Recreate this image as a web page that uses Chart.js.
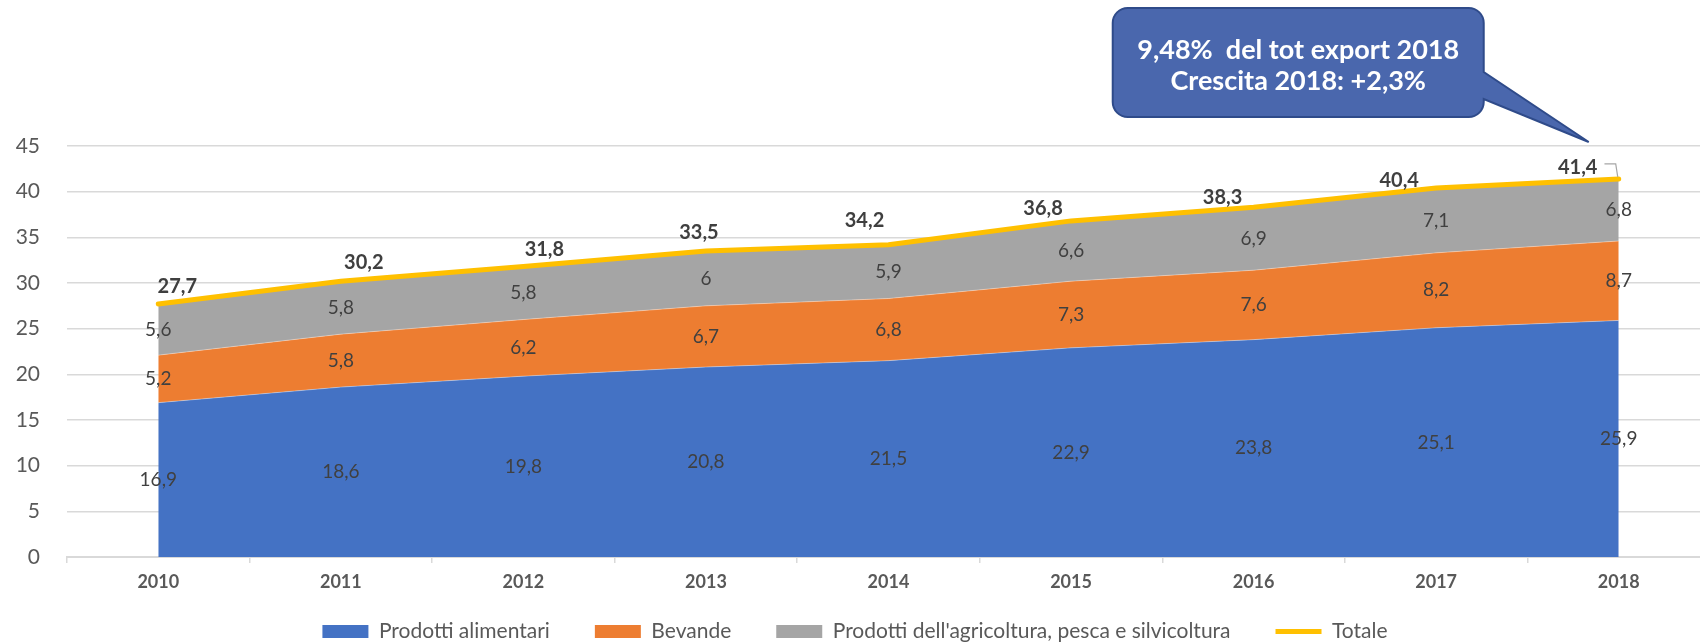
<!DOCTYPE html>
<html>
<head>
<meta charset="utf-8">
<script src="https://cdn.jsdelivr.net/npm/chart.js@4.4.1/dist/chart.umd.min.js"></script>
<style>
  html, body { margin: 0; padding: 0; background: #fff; overflow: hidden; }
  #wrap { position: absolute; left: 0; top: 0; width: 1710px; height: 652px; }
</style>
</head>
<body>
<div id="wrap"><canvas id="exportChart"></canvas></div>
<script>
// Export agroalimentare (miliardi di euro)
const years = ["2010", "2011", "2012", "2013", "2014", "2015", "2016", "2017", "2018"];
const alimentari = [16.9, 18.6, 19.8, 20.8, 21.5, 22.9, 23.8, 25.1, 25.9];
const bevande = [5.2, 5.8, 6.2, 6.7, 6.8, 7.3, 7.6, 8.2, 8.7];
const agricoltura = [5.6, 5.8, 5.8, 6, 5.9, 6.6, 6.9, 7.1, 6.8];
const totale = [27.7, 30.2, 31.8, 33.5, 34.2, 36.8, 38.3, 40.4, 41.4];
const yTicks = [0, 5, 10, 15, 20, 25, 30, 35, 40, 45];

const calloutLines = ["9,48%  del tot export 2018", "Crescita 2018: +2,3%"];

// where the bold "Totale" labels were dragged to in the original (px from point)
const totLabelShift = [[19, -17], [23, -19], [21, -17], [-7, -18], [-24, -24], [-28, -12], [-31, -10], [-37, -7], [-41, -11]];

const fmt = v => String(v).replace(".", ",");
const FONT = "Lato, 'Open Sans', sans-serif";

function areaSet(label, data, color, fill) {
  return {
    label: label,
    data: data,
    stack: "aree",
    fill: fill,
    backgroundColor: color,
    borderColor: "rgba(255,255,255,0.35)",
    borderWidth: 1,
    pointRadius: 0,
    pointHoverRadius: 0,
    pointStyle: "rect",
    pointBackgroundColor: color,
    pointBorderWidth: 0,
    tension: 0
  };
}

// value labels in the middle of each band + bold totals
const labelPlugin = {
  id: "valueLabels",
  afterDatasetsDraw(chart) {
    const ctx = chart.ctx;
    const yScale = chart.scales.y;
    ctx.save();
    ctx.textAlign = "center";
    ctx.textBaseline = "middle";
    ctx.fillStyle = "#404040";
    ctx.font = "19px " + FONT;
    [0, 1, 2].forEach(di => {
      const meta = chart.getDatasetMeta(di);
      const below = di > 0 ? chart.getDatasetMeta(di - 1) : null;
      meta.data.forEach((pt, j) => {
        const base = below ? below.data[j].y : yScale.getPixelForValue(0);
        ctx.fillText(fmt(chart.data.datasets[di].data[j]), pt.x, (pt.y + base) / 2);
      });
    });

    const tot = chart.getDatasetMeta(3);
    ctx.font = "bold 20px " + FONT;
    ctx.fillStyle = "#3f3f3f";
    tot.data.forEach((pt, j) => {
      const s = totLabelShift[j];
      ctx.fillText(fmt(totale[j]), pt.x + s[0], pt.y + s[1]);
    });
    // leader line for the last label
    const last = tot.data[tot.data.length - 1];
    const s = totLabelShift[tot.data.length - 1];
    const w = ctx.measureText(fmt(totale[totale.length - 1])).width;
    const lx = last.x + s[0] + w / 2 + 7;
    const ly = last.y + s[1] - 4;
    ctx.strokeStyle = "#a6a6a6";
    ctx.lineWidth = 1.2;
    ctx.beginPath();
    ctx.moveTo(lx, ly);
    ctx.lineTo(last.x - 3, ly);
    ctx.lineTo(last.x - 1, last.y - 2);
    ctx.stroke();
    ctx.restore();
  }
};

// speech-bubble callout pointing at the 2018 total
const calloutPlugin = {
  id: "callout",
  afterDraw(chart) {
    const ctx = chart.ctx;
    const tipX = chart.scales.x.getPixelForValue(years.length - 1) - 30;
    const tipY = chart.scales.y.getPixelForValue(45) - 4;
    const right = tipX - 105, left = tipX - 476, top = 8, bottom = 117, r = 15;
    ctx.save();
    ctx.beginPath();
    ctx.moveTo(left + r, top);
    ctx.lineTo(right - r, top);
    ctx.arcTo(right, top, right, top + r, r);
    ctx.lineTo(right, 72);
    ctx.lineTo(tipX, tipY);
    ctx.lineTo(right, 99);
    ctx.lineTo(right, bottom - r);
    ctx.arcTo(right, bottom, right - r, bottom, r);
    ctx.lineTo(left + r, bottom);
    ctx.arcTo(left, bottom, left, bottom - r, r);
    ctx.lineTo(left, top + r);
    ctx.arcTo(left, top, left + r, top, r);
    ctx.closePath();
    ctx.fillStyle = "#4a67ad";
    ctx.fill();
    ctx.strokeStyle = "#2f4b8a";
    ctx.lineWidth = 2;
    ctx.stroke();

    ctx.fillStyle = "#ffffff";
    ctx.textAlign = "center";
    ctx.textBaseline = "middle";
    ctx.font = "bold 27px " + FONT;
    const cx = (left + right) / 2;
    ctx.fillText(calloutLines[0], cx, 50);
    ctx.fillText(calloutLines[1], cx, 81);
    ctx.restore();
  }
};

const ctx = document.getElementById("exportChart").getContext("2d");
const exportChart = new Chart(ctx, {
  type: "line",
  data: {
    labels: years,
    datasets: [
      areaSet("Prodotti alimentari", alimentari, "#4472c4", "origin"),
      areaSet("Bevande", bevande, "#ed7d31", "-1"),
      areaSet("Prodotti dell'agricoltura, pesca e silvicoltura", agricoltura, "#a5a5a5", "-1"),
      {
        label: "Totale",
        data: totale,
        stack: "tot",
        order: -1,
        fill: false,
        borderColor: "#ffc000",
        borderWidth: 5,
        borderCapStyle: "round",
        pointRadius: 0,
        pointHoverRadius: 0,
        pointStyle: "line",
        pointBorderColor: "#ffc000",
        pointBorderWidth: 5,
        tension: 0
      }
    ]
  },
  options: {
    responsive: true,
    maintainAspectRatio: false,
    animation: false,
    layout: { padding: { top: 146, left: 0, right: 0, bottom: 0 } },
    plugins: {
      tooltip: { enabled: false },
      legend: {
        position: "bottom",
        labels: {
          usePointStyle: true,
          pointStyleWidth: 46,
          boxHeight: 13,
          padding: 45,
          color: "#595959",
          font: { family: FONT, size: 21 },
          sort: (a, b) => a.datasetIndex - b.datasetIndex
        }
      }
    },
    scales: {
      x: {
        offset: true,
        grid: {
          offset: true,
          drawOnChartArea: false,
          tickLength: 6,
          color: "#d9d9d9",
          lineWidth: 1.5
        },
        border: { color: "#d9d9d9", width: 2 },
        ticks: {
          padding: 8,
          color: "#595959",
          font: { family: FONT, size: 18, weight: "bold" }
        },
        afterFit: s => {
          s.height = 19;
          // the year labels sit inside the legend's top padding, so don't clip them to the axis box
          s._computeLabelArea = () => undefined;
        }
      },
      y: {
        stacked: true,
        min: yTicks[0],
        max: yTicks[yTicks.length - 1],
        afterBuildTicks: s => { s.ticks = yTicks.map(v => ({ value: v })); },
        grid: { color: "#d9d9d9", lineWidth: 1.5, drawTicks: false },
        border: { display: false },
        ticks: {
          padding: 27,
          color: "#595959",
          font: { family: FONT, size: 21 }
        },
        afterFit: s => { s.width = 67; }
      }
    }
  },
  plugins: [labelPlugin, calloutPlugin]
});
</script>
</body>
</html>
